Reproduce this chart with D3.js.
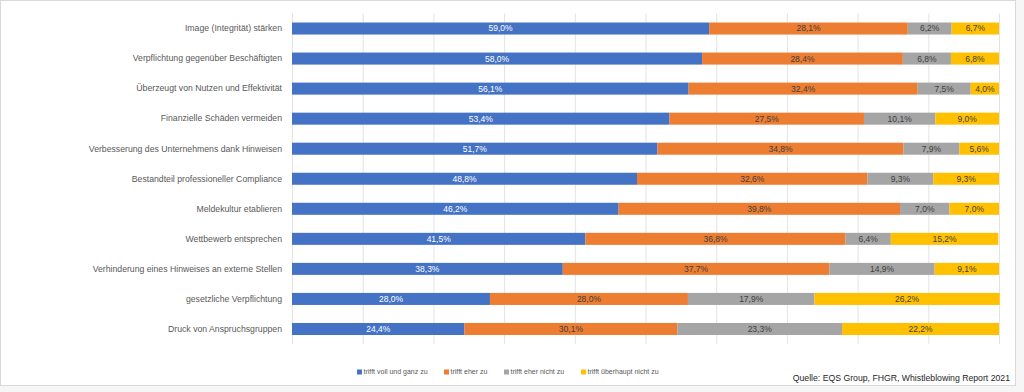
<!DOCTYPE html>
<html>
<head>
<meta charset="utf-8">
<script src="https://cdn.jsdelivr.net/npm/d3@7"></script>
<style>
  body { margin: 0; background: #fff; }
  svg { display: block; font-family: "Liberation Sans", Arial, sans-serif; }
</style>
</head>
<body>
<script>
// categories, top to bottom
var categories = [
  "Image (Integrität) stärken",
  "Verpflichtung gegenüber Beschäftigten",
  "Überzeugt von Nutzen und Effektivität",
  "Finanzielle Schäden vermeiden",
  "Verbesserung des Unternehmens dank Hinweisen",
  "Bestandteil professioneller Compliance",
  "Meldekultur etablieren",
  "Wettbewerb entsprechen",
  "Verhinderung eines Hinweises an externe Stellen",
  "gesetzliche Verpflichtung",
  "Druck von Anspruchsgruppen"
];
var seriesNames = ["trifft voll und ganz zu", "trifft eher zu", "trifft eher nicht zu", "trifft überhaupt nicht zu"];
var vollUndGanz = [59.0, 58.0, 56.1, 53.4, 51.7, 48.8, 46.2, 41.5, 38.3, 28.0, 24.4];
var eherZu = [28.1, 28.4, 32.4, 27.5, 34.8, 32.6, 39.8, 36.8, 37.7, 28.0, 30.1];
var eherNicht = [6.2, 6.8, 7.5, 10.1, 7.9, 9.3, 7.0, 6.4, 14.9, 17.9, 23.3];
var ueberhauptNicht = [6.7, 6.8, 4.0, 9.0, 5.6, 9.3, 7.0, 15.2, 9.1, 26.2, 22.2];
var xTicks = [0, 10, 20, 30, 40, 50, 60, 70, 80, 90, 100];
var source = "Quelle: EQS Group, FHGR, Whistleblowing Report 2021";

var colors = ["#4472c4", "#ed7d31", "#a5a5a5", "#ffc000"];
var labelColors = ["#ffffff", "#404040", "#404040", "#404040"];

var W = 1024, H = 392;
var plotL = 292, plotR = 999, plotT = 13.5, plotB = 344;

var rows = categories.map(function (c, i) {
  return { cat: c, s0: vollUndGanz[i], s1: eherZu[i], s2: eherNicht[i], s3: ueberhauptNicht[i] };
});
var keys = ["s0", "s1", "s2", "s3"];
var stacked = d3.stack().keys(keys)(rows);

var x = d3.scaleLinear().domain([0, 100]).range([plotL, plotR]);
var y = d3.scaleBand().domain(categories).range([plotT, plotB]).paddingInner(0.6).paddingOuter(0.3);

var de = d3.formatLocale({ decimal: ",", thousands: ".", grouping: [3], currency: ["", " €"] });
var fmt = de.format(".1f");

var svg = d3.select("body").append("svg")
  .attr("width", W)
  .attr("height", H);

// outer frame
svg.append("rect").attr("x", 0).attr("y", 0).attr("width", W).attr("height", H).attr("fill", "#f6f6f6");
svg.append("rect").attr("x", 0.5).attr("y", 0.5).attr("width", 1015).attr("height", 385)
  .attr("fill", "#fff").attr("stroke", "#d9d9d9");

// gridlines
svg.append("g").selectAll("line").data(xTicks).enter().append("line")
  .attr("x1", d => x(d) + 0.5).attr("x2", d => x(d) + 0.5)
  .attr("y1", plotT).attr("y2", plotB)
  .attr("stroke", "#e3e3e3").attr("stroke-width", 1);

// category axis
var yAxis = d3.axisLeft(y).tickSize(0).tickPadding(10);
var ya = svg.append("g").attr("transform", "translate(" + plotL + ",0)").call(yAxis);
ya.select(".domain").remove();
ya.selectAll("text").attr("fill", "#595959").attr("font-size", "8.7px").attr("font-family", null);

// bars
var layer = svg.append("g").selectAll("g").data(stacked).enter().append("g")
  .attr("fill", (d, i) => colors[i]);
layer.selectAll("rect").data(d => d).enter().append("rect")
  .attr("x", d => x(d[0]))
  .attr("y", d => y(d.data.cat))
  .attr("width", d => x(d[1]) - x(d[0]))
  .attr("height", y.bandwidth());

// value labels
var lab = svg.append("g").selectAll("g").data(stacked).enter().append("g")
  .attr("fill", (d, i) => labelColors[i]);
lab.selectAll("text").data(d => d).enter().append("text")
  .attr("x", d => (x(d[0]) + x(d[1])) / 2)
  .attr("y", d => y(d.data.cat) + y.bandwidth() / 2)
  .attr("dy", "0.35em")
  .attr("text-anchor", "middle")
  .attr("font-size", "8.5px")
  .text(function (d) { return fmt(d[1] - d[0]) + "%"; });

// legend
var legendX = [357, 444, 504, 581];
var lg = svg.append("g").selectAll("g").data(seriesNames).enter().append("g")
  .attr("transform", (d, i) => "translate(" + legendX[i] + ",372)");
lg.append("rect").attr("x", 0).attr("y", -2.5).attr("width", 5).attr("height", 5)
  .attr("fill", (d, i) => colors[i]);
lg.append("text").attr("x", 6.5).attr("dy", "0.35em")
  .attr("font-size", "7px").attr("fill", "#595959")
  .text(d => d);

// source
svg.append("text")
  .attr("x", 1010).attr("y", 378).attr("dy", "0.35em")
  .attr("text-anchor", "end")
  .attr("font-size", "8.7px").attr("fill", "#262626")
  .text(source);
</script>
</body>
</html>
